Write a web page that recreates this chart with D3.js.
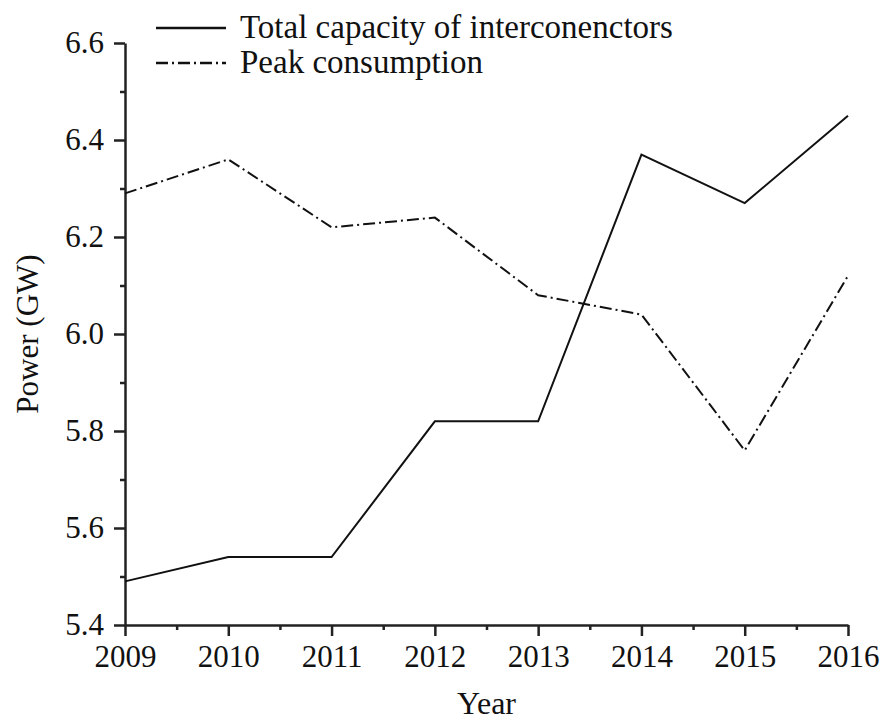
<!DOCTYPE html>
<html>
<head>
<meta charset="utf-8">
<script src="https://cdn.jsdelivr.net/npm/d3@7"></script>
<style>
    body { margin: 0; background: #fff; }
</style>
</head>
<body>
<div id="chart"></div>
<script>
// data
const years = [2009, 2010, 2011, 2012, 2013, 2014, 2015, 2016];
const totalCapacity = [5.49, 5.54, 5.54, 5.82, 5.82, 6.37, 6.27, 6.45];
const peakConsumption = [6.29, 6.36, 6.22, 6.24, 6.08, 6.04, 5.76, 6.12];
const yTicks = [5.4, 5.6, 5.8, 6.0, 6.2, 6.4, 6.6];
const seriesNames = ["Total capacity of interconenctors", "Peak consumption"];

const serif = "Liberation Serif, Times New Roman, DejaVu Serif, serif";
const width = 886, height = 722;
const margin = { top: 43, right: 38, bottom: 97, left: 125 };

const svg = d3.select('#chart')
    .append('svg')
    .attr('width', width)
    .attr('height', height);

const x = d3.scaleLinear()
    .domain([2009, 2016])
    .range([margin.left, width - margin.right]);

const y = d3.scaleLinear()
    .domain([5.4, 6.6])
    .range([height - margin.bottom, margin.top]);

// minor ticks (half steps)
const xMinor = years.slice(0, -1).map(d => d + 0.5);
const yMinor = yTicks.slice(0, -1).map(d => d + 0.1);

// x axis
svg.append('g')
    .attr('transform', `translate(0,${height - margin.bottom})`)
    .call(d3.axisBottom(x).tickValues(years).tickFormat(d3.format('d')).tickSize(11).tickPadding(9).tickSizeOuter(0));

svg.append('g')
    .attr('transform', `translate(0,${height - margin.bottom})`)
    .call(d3.axisBottom(x).tickValues(xMinor).tickSize(5).tickFormat('').tickSizeOuter(0))
    .select('.domain').remove();

// y axis
svg.append('g')
    .attr('transform', `translate(${margin.left},0)`)
    .call(d3.axisLeft(y).tickValues(yTicks).tickFormat(d3.format('.1f')).tickSize(11).tickPadding(10).tickSizeOuter(0));

svg.append('g')
    .attr('transform', `translate(${margin.left},0)`)
    .call(d3.axisLeft(y).tickValues(yMinor).tickSize(5).tickFormat('').tickSizeOuter(0))
    .select('.domain').remove();

svg.selectAll('.tick text')
    .attr('font-size', '31px')
    .attr('fill', '#111');

svg.selectAll('.domain, .tick line')
    .attr('stroke', '#222')
    .attr('stroke-width', 2.5);

// axis titles
svg.append('text')
    .attr('x', (margin.left + width - margin.right) / 2)
    .attr('y', 714)
    .attr('text-anchor', 'middle')
    .attr('font-size', '32px')
    .attr('fill', '#111')
    .text('Year');

svg.append('text')
    .attr('transform', `translate(38,${(margin.top + height - margin.bottom) / 2}) rotate(-90)`)
    .attr('text-anchor', 'middle')
    .attr('font-size', '31px')
    .attr('fill', '#111')
    .text('Power (GW)');

// lines
const line = d3.line()
    .x((d, i) => x(years[i]))
    .y(d => y(d));

const dashes = [null, '12,4,2,4'];

[totalCapacity, peakConsumption].forEach((series, k) => {
    svg.append('path')
        .datum(series)
        .attr('fill', 'none')
        .attr('stroke', '#111')
        .attr('stroke-width', 2)
        .attr('stroke-dasharray', dashes[k])
        .attr('d', line);
});

// legend
const legend = svg.append('g');
seriesNames.forEach((name, k) => {
    const ly = 28 + k * 35;
    legend.append('line')
        .attr('x1', 156).attr('x2', 226)
        .attr('y1', ly).attr('y2', ly)
        .attr('stroke', '#111')
        .attr('stroke-width', 2.5)
        .attr('stroke-dasharray', dashes[k]);
    legend.append('text')
        .attr('x', 240)
        .attr('y', ly + 10)
        .attr('font-size', '33px')
        .attr('fill', '#111')
        .text(name);
});

// every label in the serif face
svg.selectAll('text').style('font-family', serif);
</script>
</body>
</html>
